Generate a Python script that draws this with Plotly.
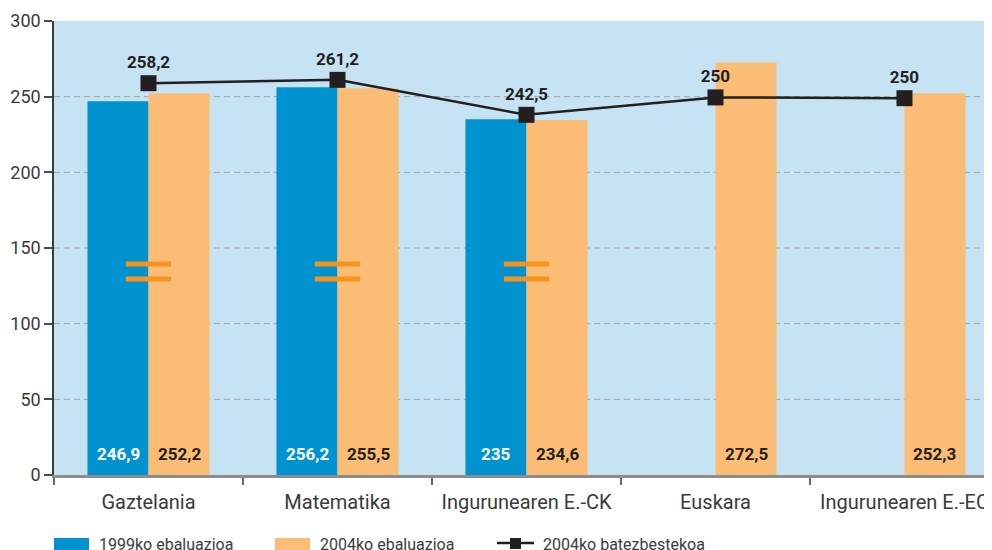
import plotly.graph_objects as go

# ---- data ----
categories = ["Gaztelania", "Matematika", "Ingurunearen E.-CK", "Euskara", "Ingurunearen E.-EC"]
eval_1999 = [246.9, 256.2, 235, None, None]
eval_2004 = [252.2, 255.5, 234.6, 272.5, 252.3]
mean_2004 = [258.9, 261.1, 238.0, 249.5, 249.0]          # marker positions as drawn
mean_2004_labels = ["258,2", "261,2", "242,5", "250", "250"]
y_ticks = [0, 50, 100, 150, 200, 250, 300]
series_names = ["1999ko ebaluazioa", "2004ko ebaluazioa", "2004ko batezbestekoa"]

# ---- style ----
BLUE = "#0093d0"
ORANGE = "#fbbd76"
BREAK = "#f7941d"
DARK = "#231f20"
BG = "#c5e3f3"
TXT = "#3a3a3a"
LABEL_FONT = "Roboto, sans-serif"
AXIS_FONT = "Roboto, Liberation Sans, sans-serif"

# page has an 8px body margin: figure sits at (8, 8) inside the 992x550 window
OFF = 8
W, H = 992 - OFF, 550 - OFF
PL, PT, PB = 54, 21, 475            # plot edges in window pixels
ML, MR, MT, MB = PL - OFF, 0, PT - OFF, (550 - PB)
PW, PH = 992 - PL, PB - PT


def fmt(v):
    return f"{v:g}".replace(".", ",")


def px_x(p):
    return (p - PL) / PW


def px_y(p):
    return (PB - p) / PH


fig = go.Figure()
fig.add_trace(go.Bar(x=categories, y=eval_1999, name=series_names[0],
                     marker=dict(color=BLUE, line=dict(width=0)), showlegend=False))
fig.add_trace(go.Bar(x=categories, y=eval_2004, name=series_names[1],
                     marker=dict(color=ORANGE, line=dict(width=0)), showlegend=False))
fig.add_trace(go.Scatter(x=categories, y=mean_2004, name=series_names[2],
                         mode="lines+markers+text", text=mean_2004_labels,
                         textposition="top center",
                         textfont=dict(family=LABEL_FONT, size=17, color=DARK, weight="bold"),
                         line=dict(color=DARK, width=2.5),
                         marker=dict(symbol="square", size=16, color=DARK),
                         showlegend=False, cliponaxis=False))

annotations = []
shapes = []
# bar value labels at the foot of each bar
for i, c in enumerate(categories):
    for vals, shift, col in ((eval_1999, -30.5, "white"), (eval_2004, 30.5, DARK)):
        v = vals[i]
        if v is None:
            continue
        annotations.append(dict(x=c, y=0, xref="x", yref="y", text=fmt(v), showarrow=False,
                                xshift=shift, yshift=21, yanchor="middle",
                                font=dict(family=LABEL_FONT, size=17, color=col, weight="bold")))
    # break marks where both evaluations exist
    if eval_1999[i] is not None and eval_2004[i] is not None:
        for y0 in (127.8, 137.7):
            shapes.append(dict(type="rect", xref="x", yref="y", x0=i - 0.12, x1=i + 0.12,
                               y0=y0, y1=y0 + 3.3, fillcolor=BREAK, line=dict(width=0),
                               layer="above"))

# dashed gridlines (not on top edge)
for t in y_ticks[1:-1]:
    shapes.append(dict(type="line", xref="paper", yref="y", x0=0, x1=1, y0=t, y1=t,
                       line=dict(color="#a3a3a3", width=1, dash="6px,4px"), layer="below"))

# manual legend
leg_y = px_y(544)
shapes.append(dict(type="rect", xref="paper", yref="paper", x0=px_x(54), x1=px_x(89),
                   y0=px_y(538), y1=px_y(556), fillcolor=BLUE, line=dict(width=0)))
shapes.append(dict(type="rect", xref="paper", yref="paper", x0=px_x(275), x1=px_x(310),
                   y0=px_y(538), y1=px_y(556), fillcolor=ORANGE, line=dict(width=0)))
shapes.append(dict(type="line", xref="paper", yref="paper", x0=px_x(497), x1=px_x(534),
                   y0=px_y(543), y1=px_y(543), line=dict(color=DARK, width=2.5)))
shapes.append(dict(type="rect", xref="paper", yref="paper", x0=px_x(510), x1=px_x(521),
                   y0=px_y(538), y1=px_y(549), fillcolor=DARK, line=dict(width=0)))
for name, xp in zip(series_names, (97, 318, 541)):
    annotations.append(dict(x=px_x(xp), y=leg_y, xref="paper", yref="paper", text=name,
                            showarrow=False, xanchor="left", yanchor="middle",
                            font=dict(family=AXIS_FONT, size=16, color=TXT)))

fig.update_layout(
    width=W, height=H,
    margin=dict(l=ML, r=MR, t=MT, b=MB, pad=0, autoexpand=False),
    paper_bgcolor="white", plot_bgcolor=BG,
    barmode="group", bargap=0.354, bargroupgap=0,
    showlegend=False,
    annotations=annotations, shapes=shapes,
    font=dict(family=AXIS_FONT, color=TXT),
)
fig.update_xaxes(type="category", range=[-0.5, 4.463], showline=True, linecolor="#8c8c8c",
                 linewidth=3, ticks="outside", tickson="boundaries", ticklen=7, tickwidth=1.5,
                 tickcolor="#6a6a6a", showgrid=False, zeroline=False, automargin=False,
                 tickfont=dict(family=AXIS_FONT, size=20, color=TXT), ticklabelstandoff=7)
fig.update_yaxes(range=[0, 300], tickvals=y_ticks, ticktext=[str(t) for t in y_ticks],
                 showline=True, linecolor="#3a3a3a", linewidth=1.5, ticks="outside",
                 ticklen=8, tickwidth=1.5, tickcolor="#4a4a4a", showgrid=False,
                 zeroline=False, automargin=False,
                 tickfont=dict(family=AXIS_FONT, size=18, color=TXT),
                 ticklabelstandoff=0)

fig.write_html("out.html")
